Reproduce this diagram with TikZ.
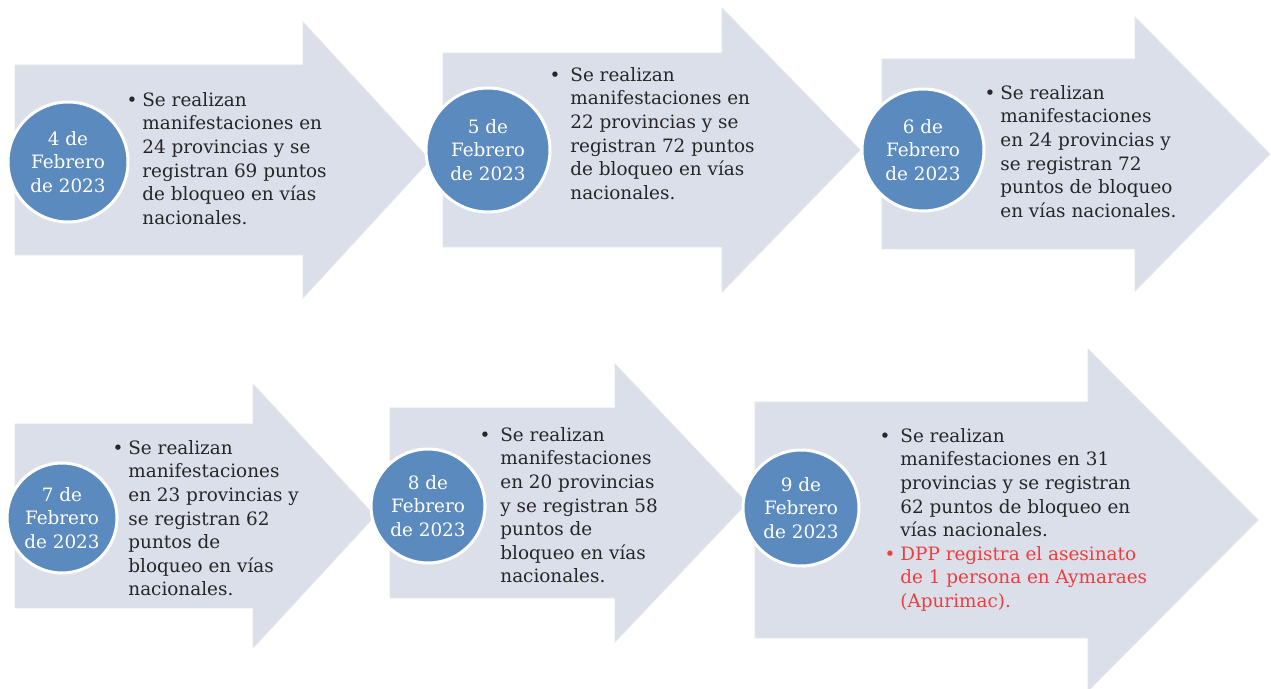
\documentclass[tikz,border=0pt]{standalone}
\usepackage{fontspec}
\setmainfont{DejaVu Serif}
\definecolor{flechagris}{RGB}{218,223,234}
\definecolor{circazul}{RGB}{90,138,190}
\definecolor{rojo}{RGB}{238,62,62}
% flecha: x izq, y centro, semialto cuerpo, x base punta, semialto punta, x punta
\newcommand{\flecha}[6]{\filldraw[fill=flechagris, draw=black!10] (#1,{#2-#3}) -- (#4,{#2-#3}) -- (#4,{#2-#5}) -- (#6,#2) -- (#4,{#2+#5}) -- (#4,{#2+#3}) -- (#1,{#2+#3}) -- cycle;}
\newcommand{\punto}[1][2.5pt]{\llap{\textbullet\hspace{#1}}}
\tikzset{
  fecha/.style={circle, fill=circazul, draw=white, line width=1.5pt, text=white, align=center, inner sep=0pt, font=\fontsize{9.2}{11.8}\selectfont},
  detalle/.style={anchor=north west, align=left, inner sep=0pt, text=black!85, font=\fontsize{9.2}{11.8}\selectfont}
}
\begin{document}
\begin{tikzpicture}[x=0.5pt,y=-0.5pt]
    \useasboundingbox (0,0) rectangle (1271,689);

    % fila de arriba
    \flecha{15}{160}{95}{303}{138}{430}
    \flecha{443}{150}{97}{722}{142}{860}
    \flecha{882}{154}{95}{1135}{137}{1270}
    % fila de abajo
    \flecha{15}{516}{92}{253}{132}{375}
    \flecha{390}{503}{95}{615}{139}{747}
    \flecha{755}{520}{118}{1088}{171}{1258}

    \node[fecha, minimum size=60pt] (f4) at (68,162) {4 de\\Febrero\\de 2023};
    \node[fecha, minimum size=62pt] (f5) at (488,150) {5 de\\Febrero\\de 2023};
    \node[fecha, minimum size=61pt] (f6) at (923,150) {6 de\\Febrero\\de 2023};
    \node[fecha, minimum size=55pt] (f7) at (62,518) {7 de\\Febrero\\de 2023};
    \node[fecha, minimum size=57pt] (f8) at (428,506) {8 de\\Febrero\\de 2023};
    \node[fecha, minimum size=58pt] (f9) at (801,508) {9 de\\Febrero\\de 2023};

    \node[detalle] (t4) at (142,92) {\punto Se realizan\\manifestaciones en\\24 provincias y se\\registran 69 puntos\\de bloqueo en vías\\nacionales.};
    \node[detalle] (t5) at (570,67) {\punto[5pt]Se realizan\\manifestaciones en\\22 provincias y se\\registran 72 puntos\\de bloqueo en vías\\nacionales.};
    \node[detalle] (t6) at (1000,85) {\punto Se realizan\\manifestaciones\\en 24 provincias y\\se registran 72\\puntos de bloqueo\\en vías nacionales.};
    \node[detalle] (t7) at (128,440) {\punto Se realizan\\manifestaciones\\en 23 provincias y\\se registran 62\\puntos de\\bloqueo en vías\\nacionales.};
    \node[detalle] (t8) at (500,427) {\punto[5pt]Se realizan\\manifestaciones\\en 20 provincias\\y se registran 58\\puntos de\\bloqueo en vías\\nacionales.};
    \node[detalle] (t9) at (900,428) {\punto[5pt]Se realizan\\manifestaciones en 31\\provincias y se registran\\62 puntos de bloqueo en\\vías nacionales.\\\textcolor{rojo}{\punto DPP registra el asesinato}\\\textcolor{rojo}{de 1 persona en Aymaraes}\\\textcolor{rojo}{(Apurimac).}};

\end{tikzpicture}
\end{document}
